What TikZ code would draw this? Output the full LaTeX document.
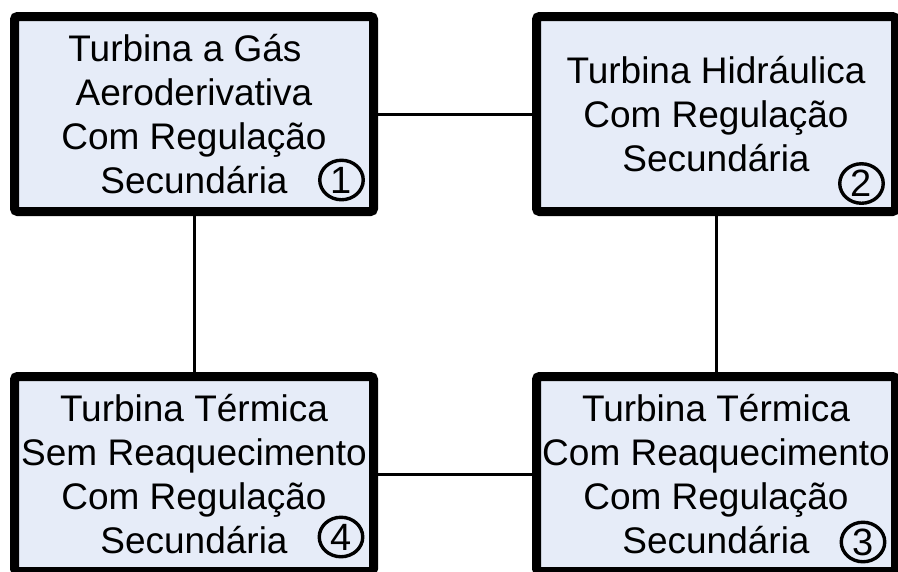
\documentclass[tikz,border=0pt]{standalone}
\usepackage{fontspec}
\setmainfont{Liberation Sans}
\usetikzlibrary{shapes.geometric}
\definecolor{boxfill}{RGB}{230,236,248}
\tikzset{
  turbbox/.style={draw=black, fill=boxfill, line width=9pt, rounded corners=3pt,
    minimum width=359pt, minimum height=195pt, inner sep=0pt, align=center,
    font=\fontsize{37}{44}\selectfont},
  numcirc/.style={draw=black, ellipse, line width=3.4pt, minimum width=43.5pt,
    minimum height=39.5pt, inner sep=0pt, font=\fontsize{38}{38}\selectfont},
  link/.style={draw=black, line width=3pt}
}
\begin{document}
\begin{tikzpicture}[x=1pt,y=-1pt]
\useasboundingbox (0,0) rectangle (898,571);
\node[turbbox] (b1) at (194,114) {Turbina a Gás\hspace*{18pt}\\Aeroderivativa\\Com Regulação\\Secundária};
\node[turbbox] (b2) at (716,114) {Turbina Hidráulica\\Com Regulação\\Secundária};
\node[turbbox] (b4) at (194,474) {Turbina Térmica\\Sem Reaquecimento\\Com Regulação\\Secundária};
\node[turbbox] (b3) at (716,474) {Turbina Térmica\\Com Reaquecimento\\Com Regulação\\Secundária};
\node[numcirc] (n1) at (341.5,180) {1};
\node[numcirc] (n2) at (861.5,183.5) {2};
\node[numcirc] (n3) at (863,542) {3};
\node[numcirc] (n4) at (341,537) {4};
\draw[link] (b1.east) -- (b2.west);
\draw[link] (b4.east) -- (b3.west);
\draw[link] (b1.south) -- (b4.north);
\draw[link] (b2.south) -- (b3.north);
\end{tikzpicture}
\end{document}
